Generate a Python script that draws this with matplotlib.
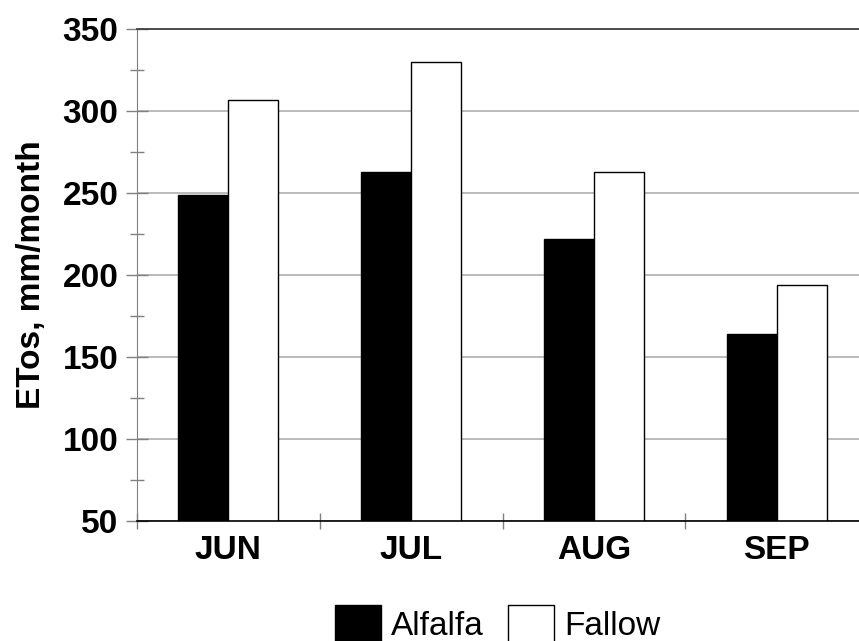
import numpy as np
import matplotlib
matplotlib.use("Agg")
import matplotlib.pyplot as plt

# monthly ETos values
months = ["JUN", "JUL", "AUG", "SEP"]
alfalfa = [249, 263, 222, 164]
fallow = [307, 330, 263, 194]
yticks = [50, 100, 150, 200, 250, 300, 350]

plt.rcParams["font.family"] = ["Liberation Sans", "DejaVu Sans"]

fig = plt.figure(figsize=(8.59, 6.41), dpi=100)
ax = fig.add_axes([137 / 859, 1 - 521 / 641, (868 - 137) / 859, (521 - 29) / 641])

x = np.arange(len(months))
w = 0.273
ax.bar(x - w / 2, alfalfa, w, color="black", edgecolor="black", lw=1, label="Alfalfa", zorder=2)
ax.bar(x + w / 2, fallow, w, color="white", edgecolor="black", lw=1, label="Fallow", zorder=2)

ax.set_xlim(-0.5, len(months) - 0.5)
ax.set_ylim(50, 350)

# y axis: major every 50 with grid, minor halfway
ax.set_yticks(yticks)
ax.set_yticks(np.arange(75, 350, 50), minor=True)
ax.yaxis.grid(True, which="major", color="#a8a8a8", lw=1.1, zorder=0)
ax.set_axisbelow(True)
ax.tick_params(axis="y", which="major", direction="inout", length=15.8, width=1,
               color="#808080", labelsize=24, pad=5.5)
ax.tick_params(axis="y", which="minor", direction="inout", length=10, width=1, color="#808080")
for t in ax.get_yticklabels():
    t.set_fontweight("bold")

# x axis: ticks on category boundaries, labels at centres
ax.set_xticks(np.arange(-0.5, len(months), 1))
ax.set_xticklabels([])
ax.set_xticks(x, minor=True)
ax.set_xticklabels(months, minor=True, fontsize=24, fontweight="bold")
ax.tick_params(axis="x", which="major", direction="inout", length=11.5, width=1, color="#808080")
ax.tick_params(axis="x", which="minor", length=0, pad=10)

ax.set_ylabel("ETos, mm/month", fontsize=24, fontweight="bold", labelpad=11)

ax.spines["left"].set_color("#808080")
ax.spines["top"].set_color("#404040")
ax.spines["top"].set_linewidth(1.3)
ax.spines["bottom"].set_color("black")
ax.spines["bottom"].set_linewidth(1.2)
ax.spines["right"].set_visible(False)

fig.legend(loc="center", bbox_to_anchor=(497.5 / 859, 1 - 624 / 641), ncol=2, frameon=False,
           fontsize=24, handlelength=1.38, handleheight=1.38, handletextpad=0.3,
           columnspacing=0.75, borderpad=0, borderaxespad=0)

fig.savefig("out.png", dpi=100)
